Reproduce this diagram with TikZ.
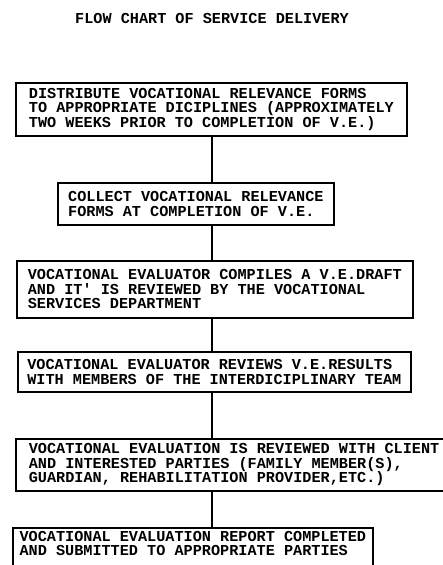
\documentclass[tikz,border=0pt]{standalone}
\usepackage{fontspec}
\setmonofont{Liberation Mono}
\usepackage{tikz}
\usetikzlibrary{positioning}

\begin{document}
\begin{tikzpicture}[
 x=1pt, y=-1pt,
 stepbox/.style={rectangle, draw, line width=1.7pt, align=left, anchor=north west,
   inner ysep=1pt, font=\ttfamily\bfseries\fontsize{15.2}{14.6}\selectfont},
 heading/.style={font=\ttfamily\bfseries\fontsize{15.2}{14.6}\selectfont},
 link/.style={line width=1.7pt}
 ]
 \clip (0,0) rectangle (443,565);
 % Title
 \node[heading] (title) at (212,18) {FLOW CHART OF SERVICE DELIVERY};
 % Steps
 \node[stepbox, inner xsep=13.1pt, minimum height=53pt] (distribute) at (15,82)
   {DISTRIBUTE VOCATIONAL RELEVANCE FORMS\\TO APPROPRIATE DICIPLINES (APPROXIMATELY\\TWO WEEKS PRIOR TO COMPLETION OF V.E.)};
 \node[stepbox, inner xsep=10.3pt, minimum height=42pt] (collect) at (57,182)
   {COLLECT VOCATIONAL RELEVANCE\\FORMS AT COMPLETION OF V.E.};
 \node[stepbox, inner xsep=11pt, minimum height=57pt] (draft) at (16,260)
   {VOCATIONAL EVALUATOR COMPILES A V.E.DRAFT\\AND IT' IS REVIEWED BY THE VOCATIONAL\\SERVICES DEPARTMENT};
 \node[stepbox, inner xsep=9.5pt, minimum height=40pt] (team) at (17,351)
   {VOCATIONAL EVALUATOR REVIEWS V.E.RESULTS\\WITH MEMBERS OF THE INTERDICIPLINARY TEAM};
 \node[stepbox, inner xsep=13pt, minimum height=52pt] (client) at (15,438)
   {VOCATIONAL EVALUATION IS REVIEWED WITH CLIENT\\AND INTERESTED PARTIES (FAMILY MEMBER(S),\\GUARDIAN, REHABILITATION PROVIDER,ETC.)};
 \node[stepbox, inner xsep=6.7pt, inner ysep=3pt, text depth=14pt] (report) at (12,527)
   {VOCATIONAL EVALUATION REPORT COMPLETED\\AND SUBMITTED TO APPROPRIATE PARTIES};
 % Connectors
 \coordinate (spine) at (212,0);
 \draw[link] (distribute.south -| spine) -- (collect.north -| spine);
 \draw[link] (collect.south -| spine) -- (draft.north -| spine);
 \draw[link] (draft.south -| spine) -- (team.north -| spine);
 \draw[link] (team.south -| spine) -- (client.north -| spine);
 \draw[link] (client.south -| spine) -- (report.north -| spine);
\end{tikzpicture}
\end{document}
